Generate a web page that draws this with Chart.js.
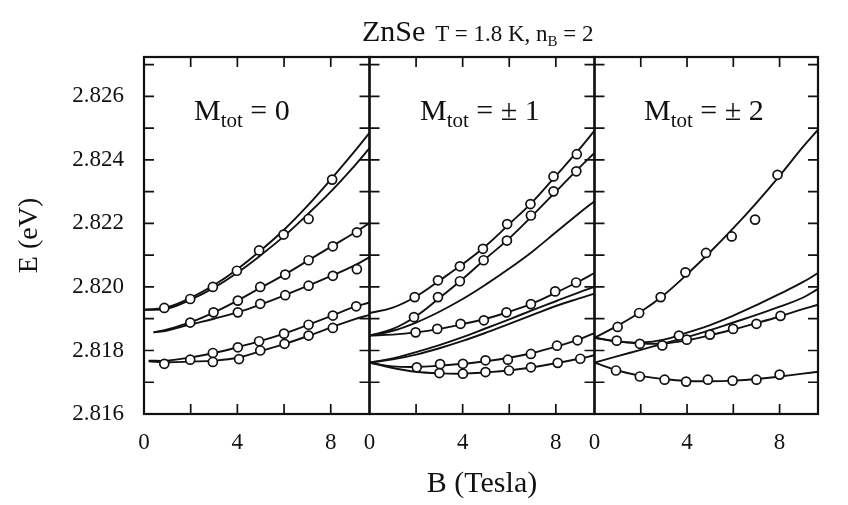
<!DOCTYPE html>
<html><head><meta charset="utf-8">
<script src="https://cdn.jsdelivr.net/npm/chart.js@4"></script>
<style>
html,body{margin:0;padding:0;background:#fff;}
#wrap{position:relative;width:848px;height:505px;overflow:hidden;font-family:"Liberation Serif","Times New Roman",serif;color:#111;}
canvas{position:absolute;top:0;}
.txt{position:absolute;white-space:nowrap;line-height:1;}
.big{font-size:30px;}
.sm{font-size:23px;}
.sub1{font-size:21px;vertical-align:-7px;}
.sub2{font-size:15px;vertical-align:-5px;}
</style></head><body>
<div id="wrap">
<canvas id="c1" style="left:0px" width="380" height="505"></canvas>
<canvas id="c2" style="left:350px" width="260" height="505"></canvas>
<canvas id="c3" style="left:575px" width="260" height="505"></canvas>
<div class="txt" style="left:362px;top:16px;"><span class="big">ZnSe</span><span class="sm" style="margin-left:10px">T = 1.8 K, n<span class="sub2">B</span> = 2</span></div>
<div class="txt big" style="left:194px;top:95px;">M<span class="sub1">tot</span> = 0</div>
<div class="txt big" style="left:420px;top:95px;">M<span class="sub1">tot</span> = ± 1</div>
<div class="txt big" style="left:644px;top:95px;">M<span class="sub1">tot</span> = ± 2</div>
</div>
<script>
// ---- axis settings ----
const xMax = 9.66;
const yMin = 2.816;
const yMax = 2.82724;
const yLabelTicks = [2.816, 2.818, 2.820, 2.822, 2.824, 2.826];
const yMinorTicks = [2.816, 2.817, 2.818, 2.819, 2.820, 2.821, 2.822, 2.823, 2.824, 2.825, 2.826, 2.827];
const xLabelTicks = [0, 4, 8];
const xMinorTicks = [2, 4, 6, 8];

// ---- B grids for calculated curves (Tesla) ----
const bGrid    = [0, 1, 2, 3, 4, 5, 6, 7, 8, 9, 9.66];
const bGridMid = [0.41, 1, 2, 3, 4, 5, 6, 7, 8, 9, 9.66];
const bGridLow = [0.2, 1, 2, 3, 4, 5, 6, 7, 8, 9, 9.66];

// ---- Panel 1: M_tot = 0, calculated curves (eV) ----
const p1CurveA = [2.81928, 2.81936, 2.81966, 2.82006, 2.82056, 2.82115, 2.82180, 2.82255, 2.82338, 2.82425, 2.82485];
const p1CurveB = [2.81928, 2.81932, 2.81960, 2.81998, 2.82045, 2.82100, 2.82160, 2.82228, 2.82300, 2.82380, 2.82437];
const p1CurveC = [2.81857, 2.81866, 2.81889, 2.81920, 2.81957, 2.81998, 2.82038, 2.82082, 2.82126, 2.82170, 2.82201];
const p1CurveD = [2.81857, 2.81863, 2.81882, 2.81900, 2.81920, 2.81945, 2.81973, 2.82003, 2.82034, 2.82067, 2.82094];
const p1CurveE = [2.81768, 2.81768, 2.81778, 2.81792, 2.81810, 2.81830, 2.81853, 2.81880, 2.81908, 2.81937, 2.81951];
const p1CurveF = [2.81766, 2.81763, 2.81765, 2.81768, 2.81777, 2.81798, 2.81820, 2.81845, 2.81872, 2.81898, 2.81912];
// measured points
const p1PointB = [0.87, 1.98, 2.95, 3.98, 4.93, 5.98, 7.05, 8.06,
                  1.98, 2.98, 4.02, 4.02, 4.98, 4.98, 6.05, 6.05, 7.05, 7.05, 8.09, 8.09, 9.12, 9.12,
                  0.87, 1.98, 2.95, 2.95, 4.02, 4.07, 4.93, 4.98, 6.00, 6.02, 7.05, 7.05, 8.09, 8.09, 9.09];
const p1PointE = [2.81934, 2.81962, 2.82000, 2.82051, 2.82115, 2.82165, 2.82214, 2.82338,
                  2.81888, 2.81920, 2.81957, 2.81920, 2.82000, 2.81947, 2.82039, 2.81974, 2.82084, 2.82004, 2.82128, 2.82035, 2.82172, 2.82056,
                  2.81758, 2.81771, 2.81792, 2.81764, 2.81810, 2.81773, 2.81829, 2.81800, 2.81853, 2.81821, 2.81881, 2.81847, 2.81910, 2.81871, 2.81939];

// ---- Panel 2: M_tot = ±1 ----
const p2CurveA = [2.81918, 2.81935, 2.81970, 2.82020, 2.82072, 2.82130, 2.82198, 2.82268, 2.82350, 2.82433, 2.82492];
const p2CurveB = [2.81847, 2.81868, 2.81908, 2.81965, 2.82025, 2.82090, 2.82153, 2.82225, 2.82300, 2.82375, 2.82422];
const p2CurveC = [2.81847, 2.81862, 2.81888, 2.81922, 2.81962, 2.82008, 2.82058, 2.82112, 2.82172, 2.82232, 2.82270];
const p2CurveD = [2.81847, 2.81850, 2.81857, 2.81868, 2.81883, 2.81900, 2.81922, 2.81948, 2.81982, 2.82018, 2.82044];
const p2CurveE = [2.81762, 2.81775, 2.81795, 2.81817, 2.81842, 2.81870, 2.81898, 2.81927, 2.81955, 2.81983, 2.82000];
const p2CurveF = [2.81762, 2.81772, 2.81787, 2.81807, 2.81830, 2.81856, 2.81884, 2.81912, 2.81940, 2.81964, 2.81979];
const p2CurveG = [2.81762, 2.81750, 2.81748, 2.81752, 2.81758, 2.81766, 2.81777, 2.81792, 2.81812, 2.81835, 2.81855];
const p2CurveH = [2.81762, 2.81745, 2.81733, 2.81728, 2.81727, 2.81731, 2.81737, 2.81747, 2.81760, 2.81774, 2.81785];
const p2PointB = [1.94, 2.94, 3.88, 4.87, 5.91, 6.91, 7.90, 8.90,
                  1.91, 2.94, 3.88, 4.90, 5.90, 6.93, 7.90, 8.88,
                  1.98, 2.91, 3.91, 4.91, 5.88, 6.93, 7.97, 8.87,
                  2.03, 3.03, 4.01, 4.98, 5.94, 6.93, 8.05, 8.93,
                  3.00, 4.01, 4.98, 5.99, 6.93, 8.08, 9.05];
const p2PointE = [2.81968, 2.82021, 2.82065, 2.82120, 2.82198, 2.82261, 2.82348, 2.82418,
                  2.81905, 2.81968, 2.82018, 2.82084, 2.82146, 2.82225, 2.82301, 2.82364,
                  2.81857, 2.81868, 2.81884, 2.81895, 2.81920, 2.81946, 2.81986, 2.82014,
                  2.81747, 2.81757, 2.81758, 2.81769, 2.81771, 2.81789, 2.81815, 2.81832,
                  2.81729, 2.81727, 2.81732, 2.81737, 2.81747, 2.81761, 2.81774];

// ---- Panel 3: M_tot = ±2 ----
const p3CurveA = [2.81840, 2.81878, 2.81922, 2.81975, 2.82040, 2.82110, 2.82185, 2.82265, 2.82350, 2.82440, 2.82495];
const p3CurveB = [2.81840, 2.81828, 2.81825, 2.81834, 2.81856, 2.81880, 2.81910, 2.81943, 2.81978, 2.82015, 2.82044];
const p3CurveC = [2.81840, 2.81829, 2.81822, 2.81822, 2.81832, 2.81848, 2.81866, 2.81886, 2.81907, 2.81930, 2.81944];
const p3CurveD = [2.81762, 2.81782, 2.81802, 2.81822, 2.81842, 2.81864, 2.81888, 2.81912, 2.81938, 2.81966, 2.81994];
const p3CurveE = [2.81762, 2.81737, 2.81720, 2.81710, 2.81704, 2.81703, 2.81705, 2.81710, 2.81718, 2.81727, 2.81733];
const p3PointB = [1.00, 1.93, 2.86, 3.93, 4.82, 5.93, 6.94, 7.91,
                  0.96, 1.96, 2.93, 3.65, 3.99, 4.99, 5.99, 7.00, 8.04,
                  0.93, 1.96, 3.03, 3.96, 4.90, 5.97, 7.00, 8.00];
const p3PointE = [2.81874, 2.81918, 2.81968, 2.82046, 2.82107, 2.82159, 2.82212, 2.82353,
                  2.81831, 2.81821, 2.81816, 2.81847, 2.81834, 2.81850, 2.81868, 2.81884, 2.81909,
                  2.81737, 2.81718, 2.81708, 2.81702, 2.81708, 2.81705, 2.81708, 2.81724];

// ---- drawing ----
Chart.defaults.font.family = '"Liberation Serif", "Times New Roman", serif';
Chart.defaults.color = '#111';

const frameTicks = {
  id: 'frameTicks',
  afterDraw(chart) {
    const ctx = chart.ctx, ca = chart.chartArea;
    const sx = chart.scales.x, sy = chart.scales.y;
    const L = 10;
    ctx.save();
    ctx.strokeStyle = '#111';
    ctx.lineWidth = 1.7;
    ctx.beginPath();
    yMinorTicks.forEach(v => {
      const y = sy.getPixelForValue(v);
      if (y < ca.top + 1 || y > ca.bottom - 1) return;
      ctx.moveTo(ca.left, y); ctx.lineTo(ca.left + L, y);
      ctx.moveTo(ca.right, y); ctx.lineTo(ca.right - L, y);
    });
    xMinorTicks.forEach(v => {
      const x = sx.getPixelForValue(v);
      ctx.moveTo(x, ca.bottom); ctx.lineTo(x, ca.bottom - L);
      ctx.moveTo(x, ca.top); ctx.lineTo(x, ca.top + L);
    });
    ctx.stroke();
    ctx.lineWidth = 2.2;
    ctx.strokeRect(ca.left, ca.top, ca.right - ca.left, ca.bottom - ca.top);
    ctx.restore();
  }
};

function curveSet(bs, es) {
  return {
    data: bs.map((b, i) => ({x: b, y: es[i]})),
    showLine: true, borderColor: '#111', borderWidth: 1.9,
    pointRadius: 0, tension: 0.4, fill: false, order: 1
  };
}
function pointSet(bs, es) {
  return {
    data: bs.map((b, i) => ({x: b, y: es[i]})),
    showLine: false, pointRadius: 4.5, pointBorderWidth: 1.7,
    pointBackgroundColor: '#fff', pointBorderColor: '#111', order: 0
  };
}

function makePanel(id, datasets, pad, withY, xTitle) {
  return new Chart(document.getElementById(id), {
    type: 'scatter',
    data: {datasets},
    plugins: [frameTicks],
    options: {
      responsive: false, animation: false, events: [],
      layout: {padding: pad},
      plugins: {legend: {display: false}, tooltip: {enabled: false}, title: {display: false}},
      scales: {
        x: {
          type: 'linear', min: 0, max: xMax,
          grid: {display: false}, border: {display: false},
          afterBuildTicks: s => { s.ticks = xLabelTicks.map(v => ({value: v})); },
          afterFit: s => { s.height = 91; },
          ticks: {font: {size: 23}, color: '#111', padding: 7, maxRotation: 0},
          title: {display: !!xTitle, text: xTitle || '', font: {size: 30}, color: '#111', padding: {top: 0, bottom: 3}}
        },
        y: {
          type: 'linear', min: yMin, max: yMax, display: withY,
          grid: {display: false}, border: {display: false},
          afterBuildTicks: s => { s.ticks = yLabelTicks.map(v => ({value: v})); },
          afterFit: s => { if (withY) s.width = 144; },
          ticks: {font: {size: 23}, color: '#111', padding: 12, callback: v => v.toFixed(3)},
          title: {display: withY, text: 'E (eV)', font: {size: 28}, color: '#111', padding: {top: 13, bottom: 0}}
        }
      }
    }
  });
}

makePanel('c1', [
  pointSet(p1PointB, p1PointE),
  curveSet(bGrid, p1CurveA), curveSet(bGrid, p1CurveB),
  curveSet(bGridMid, p1CurveC), curveSet(bGridMid, p1CurveD),
  curveSet(bGridLow, p1CurveE), curveSet(bGridLow, p1CurveF)
], {top: 57, right: 10.5, left: 0, bottom: 0}, true, null);

makePanel('c2', [
  pointSet(p2PointB, p2PointE),
  curveSet(bGrid, p2CurveA), curveSet(bGrid, p2CurveB), curveSet(bGrid, p2CurveC),
  curveSet(bGrid, p2CurveD), curveSet(bGrid, p2CurveE), curveSet(bGrid, p2CurveF),
  curveSet(bGrid, p2CurveG), curveSet(bGrid, p2CurveH)
], {top: 57, right: 15.5, left: 19.5, bottom: 0}, false, 'B (Tesla)');

makePanel('c3', [
  pointSet(p3PointB, p3PointE),
  curveSet(bGrid, p3CurveA), curveSet(bGrid, p3CurveB), curveSet(bGrid, p3CurveC),
  curveSet(bGrid, p3CurveD), curveSet(bGrid, p3CurveE)
], {top: 57, right: 17, left: 19.5, bottom: 0}, false, null);
</script>
</body></html>
